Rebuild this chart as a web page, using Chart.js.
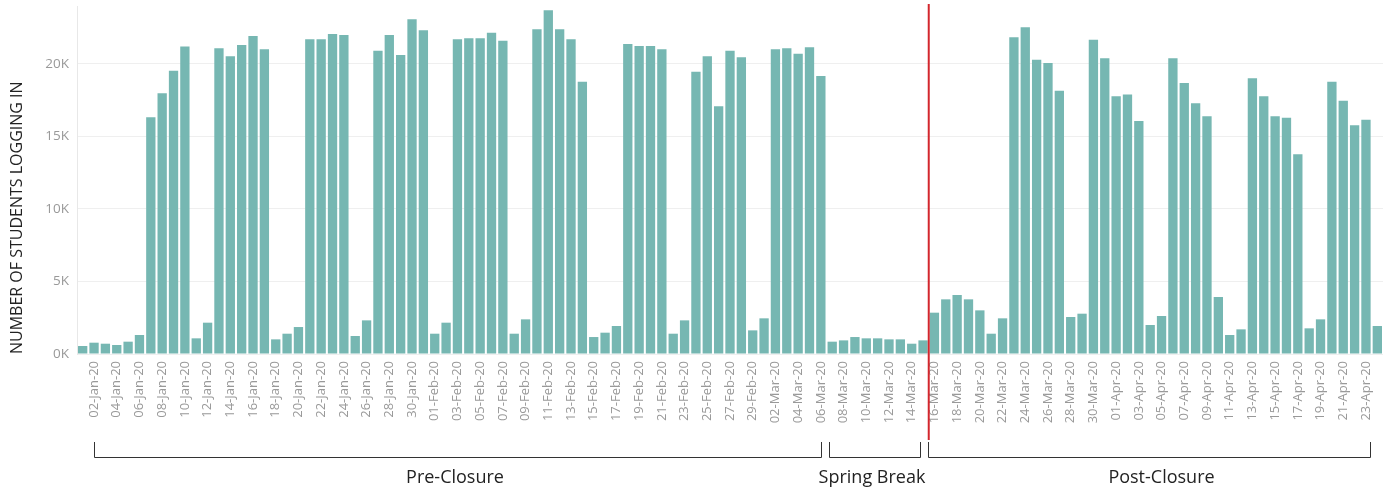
<!DOCTYPE html>
<html>
<head>
<meta charset="utf-8">
<script src="https://cdn.jsdelivr.net/npm/chart.js@4"></script>
<style>
  html, body { margin: 0; padding: 0; background: #fff; }
  #wrap { width: 1387px; height: 489px; position: relative; }
</style>
</head>
<body>
<div id="wrap"><canvas id="myChart"></canvas></div>
<script>
// daily logins, 01-Jan-20 .. 24-Apr-20
const janLogins = [550, 780, 710, 620, 850, 1310, 16320, 17980, 19540, 21200,
  1080, 2160, 21080, 20530, 21310, 21930, 21010, 1010, 1400, 1860,
  21700, 21700, 22070, 22000, 1240, 2320, 20920, 22000, 20620, 23080, 22320];
const febLogins = [1400, 2160, 21700, 21770, 21770, 22160, 21610, 1400, 2390, 22390,
  23700, 22390, 21700, 18780, 1170, 1470, 1930, 21380, 21240, 21240,
  21010, 1400, 2320, 19470, 20530, 17080, 20920, 20460, 1630];
const marLogins = [2460, 21010, 21080, 20710, 21150, 19170, 850, 940, 1170, 1080,
  1080, 1010, 1010, 710, 940, 2850, 3770, 4070, 3770, 3010,
  1400, 2460, 21840, 22530, 20300, 20070, 18160, 2550, 2780, 21680, 20390];
const aprLogins = [17770, 17900, 16070, 2000, 2620, 20390, 18690, 17290, 16390, 3930,
  1310, 1700, 19010, 17770, 16390, 16300, 13770, 1770, 2390, 18780,
  17470, 15770, 16160, 1930];

const monthNames = ['Jan', 'Feb', 'Mar', 'Apr'];
const monthData = [janLogins, febLogins, marLogins, aprLogins];

const yTicks = [0, 5000, 10000, 15000, 20000];

// periods: first and last category index, label
const periodNames = ['Pre-Closure', 'Spring Break', 'Post-Closure'];
const periodStart = [1, 66, 75];
const periodEnd = [65, 74, 113];
const closureIndex = 75; // first day after closure (16-Mar-20)

const labels = [];
const logins = [];
monthData.forEach((arr, m) => {
  arr.forEach((v, d) => {
    labels.push(String(d + 1).padStart(2, '0') + '-' + monthNames[m] + '-20');
    logins.push(v);
  });
});

const periodsPlugin = {
  id: 'periods',
  afterDraw(chart) {
    const ctx = chart.ctx;
    const x = chart.scales.x;
    const step = x.getPixelForValue(1) - x.getPixelForValue(0);
    ctx.save();
    // closure line
    const lx = x.getPixelForValue(closureIndex) - step / 2;
    ctx.strokeStyle = '#d3262d';
    ctx.lineWidth = 2;
    ctx.beginPath();
    ctx.moveTo(lx, 4);
    ctx.lineTo(lx, 440);
    ctx.stroke();
    // brackets
    ctx.strokeStyle = '#333';
    ctx.lineWidth = 1;
    ctx.fillStyle = '#222';
    ctx.font = '18px "Open Sans"';
    ctx.textAlign = 'center';
    ctx.textBaseline = 'middle';
    periodNames.forEach((name, i) => {
      let x1 = Math.round(x.getPixelForValue(periodStart[i])) + 0.5;
      let x2 = Math.round(x.getPixelForValue(periodEnd[i])) + 0.5;
      if (i === 1) { x1 -= 3; x2 -= 3; }
      if (i === 2) { x1 = Math.round(lx) - 0.5; x2 += 4; }
      ctx.beginPath();
      ctx.moveTo(x1, 442);
      ctx.lineTo(x1, 457.5);
      ctx.lineTo(x2, 457.5);
      ctx.lineTo(x2, 442);
      ctx.stroke();
      ctx.fillText(name, (x1 + x2) / 2 + (i === 2 ? 12 : -3), 478);
    });
    ctx.restore();
  }
};

const chartContext = document.getElementById('myChart').getContext('2d');
new Chart(chartContext, {
  type: 'bar',
  data: {
    labels: labels,
    datasets: [{
      data: logins,
      backgroundColor: '#76b7b2',
      borderWidth: 0,
      barPercentage: 0.82,
      categoryPercentage: 1
    }]
  },
  options: {
    responsive: true,
    maintainAspectRatio: false,
    animation: false,
    layout: { padding: { top: 6, right: 4, left: 0, bottom: 0 } },
    plugins: { legend: { display: false }, tooltip: { enabled: false } },
    scales: {
      x: {
        afterFit: (scale) => {
          scale.height = 135;
          scale.paddingLeft = 0;
          scale.paddingRight = 0;
        },
        grid: { display: false, drawTicks: false },
        border: { display: false },
        ticks: {
          autoSkip: false,
          minRotation: 90,
          maxRotation: 90,
          padding: 7,
          color: '#999',
          font: { family: 'Open Sans', size: 13 },
          callback: function (v, i) { return i % 2 === 1 ? this.getLabelForValue(v) : ''; }
        }
      },
      y: {
        min: 0,
        max: 24000,
        afterFit: (scale) => {
          scale.width = 77;
          scale.paddingTop = 0;
          scale.paddingBottom = 0;
        },
        afterBuildTicks: (scale) => { scale.ticks = yTicks.map(v => ({ value: v })); },
        grid: { color: '#efefef', drawTicks: false },
        border: { display: true, color: '#e8e8e8' },
        ticks: {
          padding: 8,
          color: '#999',
          font: { family: 'Open Sans', size: 13.5 },
          callback: (v) => (v / 1000) + 'K'
        },
        title: {
          display: true,
          text: 'NUMBER OF STUDENTS LOGGING IN',
          align: 'start',
          color: '#222',
          font: { family: 'Open Sans', size: 16 },
          padding: { top: 8, bottom: 0 }
        }
      }
    }
  },
  plugins: [periodsPlugin]
});
</script>
</body>
</html>
